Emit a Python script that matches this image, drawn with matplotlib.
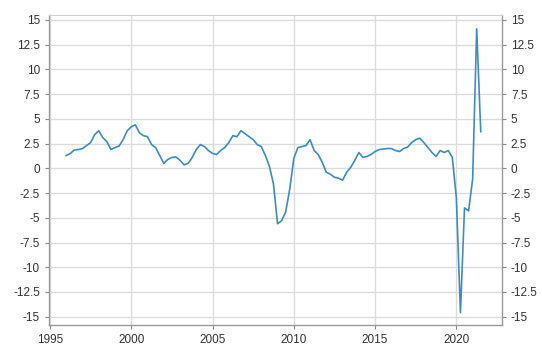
import matplotlib
matplotlib.use('Agg')
import matplotlib.pyplot as plt
import numpy as np

# quarterly year-on-year growth, 1996Q1 .. 2021Q3
start_year = 1996
growth = [
    1.3, 1.5, 1.85, 1.9,      # 1996
    2.0, 2.3, 2.6, 3.4,       # 1997
    3.8, 3.1, 2.7, 1.9,       # 1998
    2.1, 2.25, 2.9, 3.8,      # 1999
    4.2, 4.4, 3.6, 3.3,       # 2000
    3.2, 2.4, 2.1, 1.3,       # 2001
    0.5, 0.9, 1.1, 1.15,      # 2002
    0.8, 0.35, 0.5, 1.1,      # 2003
    1.9, 2.4, 2.2, 1.8,       # 2004
    1.5, 1.4, 1.8, 2.1,       # 2005
    2.6, 3.3, 3.2, 3.8,       # 2006
    3.5, 3.2, 2.9, 2.4,       # 2007
    2.2, 1.3, 0.2, -1.6,      # 2008
    -5.6, -5.3, -4.4, -2.1,   # 2009
    1.0, 2.1, 2.2, 2.3,       # 2010
    2.9, 1.8, 1.4, 0.6,       # 2011
    -0.4, -0.6, -0.9, -1.0,   # 2012
    -1.2, -0.4, 0.1, 0.8,     # 2013
    1.6, 1.1, 1.2, 1.4,       # 2014
    1.7, 1.9, 1.95, 2.0,      # 2015
    2.0, 1.8, 1.7, 2.0,       # 2016
    2.15, 2.6, 2.9, 3.05,     # 2017
    2.6, 2.1, 1.6, 1.2,       # 2018
    1.8, 1.6, 1.8, 1.1,       # 2019
    -3.0, -14.6, -4.0, -4.3,  # 2020
    -1.1, 14.1, 3.7,          # 2021
]
t = start_year + np.arange(len(growth)) / 4.0

x_ticks = [1995, 2000, 2005, 2010, 2015, 2020]
y_ticks = np.arange(-15, 15.1, 2.5)
y_labels = [f'{v:g}' for v in y_ticks]

fig = plt.figure(figsize=(5.42, 3.59), dpi=100)
ax = fig.add_axes([0.0904, 0.0947, 0.8356, 0.8635])
ax.plot(t, growth, color='#3f8dbd', lw=1.2)

ax.set_xlim(1994.94, 2022.8)
ax.set_ylim(-15.84, 15.5)
ax.set_xticks(x_ticks)
ax.set_yticks(y_ticks)
ax.set_yticklabels(y_labels)
ax.grid(True, color='#dcdcdc', lw=1.0)
ax.set_axisbelow(True)

ax.tick_params(axis='both', labelsize=8.5, colors='#333333',
               length=3, color='#888888', direction='out')
ax.tick_params(axis='y', left=True, right=True,
               labelleft=True, labelright=True)
for s in ('left', 'bottom', 'right'):
    ax.spines[s].set_color('#999999')
    ax.spines[s].set_linewidth(1.0)
ax.spines['top'].set_color('#d0d0d0')

for lab in ax.get_xticklabels() + ax.get_yticklabels() + \
        ax.yaxis.get_ticklabels(which='major'):
    lab.set_fontfamily('Liberation Sans')
for lab in ax.yaxis.get_majorticklabels():
    lab.set_fontfamily('Liberation Sans')

fig.savefig('out.png', dpi=100)
